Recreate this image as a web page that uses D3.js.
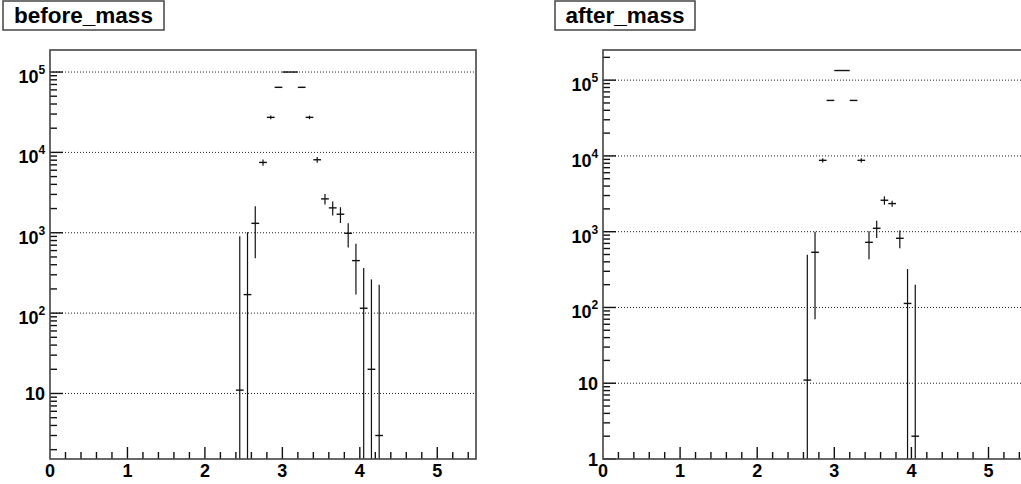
<!DOCTYPE html>
<html>
<head>
<meta charset="utf-8">
<script src="https://cdn.jsdelivr.net/npm/d3@7"></script>
<style>
  html, body { margin: 0; padding: 0; background: #fff; }
  svg { display: block; }
  text { font-family: "Liberation Sans", Arial, Helvetica, sans-serif; font-weight: bold; fill: #000; }
</style>
</head>
<body>
<svg id="chart" width="1021" height="484"></svg>
<script>
// Invariant-mass histograms: bin centres, contents and errors (bin width 0.1)
const binWidth = 0.1;

const beforeMass   = [2.45, 2.55, 2.65, 2.75, 2.85, 2.95, 3.05, 3.15, 3.25, 3.35, 3.45, 3.55, 3.65, 3.75, 3.85, 3.95, 4.05, 4.15, 4.25];
const beforeCounts = [11, 170, 1310, 7500, 27300, 64500, 100000, 100000, 64500, 27300, 8100, 2640, 2040, 1700, 985, 450, 115, 20, 3];
const beforeErrors = [895, 845, 830, 680, 1500, 900, 1000, 1000, 900, 1400, 650, 400, 400, 380, 330, 280, 250, 243, 222];

const afterMass   = [2.65, 2.75, 2.85, 2.95, 3.05, 3.15, 3.25, 3.35, 3.45, 3.55, 3.65, 3.75, 3.85, 3.95, 4.05];
const afterCounts = [11, 535, 8750, 54000, 134000, 134000, 54000, 8750, 724, 1110, 2600, 2350, 818, 113, 2];
const afterErrors = [486, 465, 550, 600, 700, 700, 600, 550, 290, 285, 330, 220, 215, 209, 198];

const xTickValues = [0, 1, 2, 3, 4, 5];

const panels = [
  { title: "before_mass", mass: beforeMass, counts: beforeCounts, errors: beforeErrors,
    left: 50, right: 476, top: 50, bottom: 459, yMin: 1.53, yMax: 1.88e5,
    titleBox: [3, 1, 161, 29] },
  { title: "after_mass", mass: afterMass, counts: afterCounts, errors: afterErrors,
    left: 603, right: 603 + 5.5 * 77.1, top: 50, bottom: 459, yMin: 1, yMax: 2.5e5,
    titleBox: [555, 1, 140, 29] }
];

const svg = d3.select("#chart");

panels.forEach((p, i) => {
  const g = svg.append("g");
  const clipId = "clip" + i;
  svg.append("clipPath").attr("id", clipId)
    .append("rect").attr("x", p.left).attr("y", p.top)
    .attr("width", p.right - p.left).attr("height", p.bottom - p.top);

  const x = d3.scaleLinear().domain([0, 5.5]).range([p.left, p.right]);
  const y = d3.scaleLog().domain([p.yMin, p.yMax]).range([p.bottom, p.top]);

  // log ticks: every 1..9 x 10^d inside the domain
  const logTicks = [];
  for (let d = Math.floor(Math.log10(p.yMin)); d <= Math.ceil(Math.log10(p.yMax)); d++) {
    for (let m = 1; m <= 9; m++) {
      const v = m * Math.pow(10, d);
      if (v >= p.yMin * 0.9999 && v <= p.yMax) logTicks.push({ v, major: m === 1, d });
    }
  }

  // dotted horizontal grid at each decade
  g.append("g").selectAll("line")
    .data(logTicks.filter(t => t.major && t.v > p.yMin * 1.001))
    .join("line")
    .attr("x1", p.left).attr("x2", p.right)
    .attr("y1", t => y(t.v)).attr("y2", t => y(t.v))
    .attr("stroke", "#222").attr("stroke-width", 1)
    .attr("stroke-dasharray", "1,2");

  // data points: horizontal bar spans the bin, vertical bar shows the error
  const pts = g.append("g").attr("clip-path", `url(#${clipId})`);
  p.mass.forEach((m, k) => {
    const c = p.counts[k], e = p.errors[k];
    const lo = c - e > 0 ? y(c - e) : p.bottom + 5;
    pts.append("line")
      .attr("x1", x(m)).attr("x2", x(m))
      .attr("y1", lo).attr("y2", y(c + e))
      .attr("stroke", "#111").attr("stroke-width", 1.2);
    pts.append("line")
      .attr("x1", x(m - binWidth / 2)).attr("x2", x(m + binWidth / 2))
      .attr("y1", y(c)).attr("y2", y(c))
      .attr("stroke", "#111").attr("stroke-width", 1.4);
  });

  // y ticks (inside the frame)
  g.append("g").selectAll("line")
    .data(logTicks)
    .join("line")
    .attr("x1", p.left).attr("x2", t => p.left + (t.major ? 13 : 7))
    .attr("y1", t => y(t.v)).attr("y2", t => y(t.v))
    .attr("stroke", "#111").attr("stroke-width", 1.4);

  // y labels
  const labels = g.append("g");
  logTicks.filter(t => t.major).forEach(t => {
    const yy = y(t.v);
    if (t.d <= 1) {
      labels.append("text")
        .attr("x", p.left - 5).attr("y", yy + 6.5)
        .attr("text-anchor", "end").attr("font-size", 18)
        .text(t.d === 0 ? "1" : "10");
    } else {
      labels.append("text")
        .attr("x", p.left - 11.5).attr("y", yy + 11)
        .attr("text-anchor", "end").attr("font-size", 18)
        .text("10");
      labels.append("text")
        .attr("x", p.left - 11.5).attr("y", yy + 2)
        .attr("text-anchor", "start").attr("font-size", 12)
        .text(String(t.d));
    }
  });

  // x ticks every 0.2, integers long
  const xTicks = d3.range(0, 56, 2).map(v => v / 10).filter(v => v > 0 && v < 5.5);
  g.append("g").selectAll("line")
    .data(xTicks)
    .join("line")
    .attr("x1", v => x(v)).attr("x2", v => x(v))
    .attr("y1", p.bottom)
    .attr("y2", v => p.bottom - (Math.abs(v - Math.round(v)) < 1e-6 ? 12 : 7))
    .attr("stroke", "#111").attr("stroke-width", 1.4);

  g.append("g").selectAll("text")
    .data(xTickValues)
    .join("text")
    .attr("x", v => x(v)).attr("y", 477)
    .attr("text-anchor", "middle").attr("font-size", 18)
    .text(v => String(v));

  // frame
  g.append("rect")
    .attr("x", p.left).attr("y", p.top)
    .attr("width", p.right - p.left).attr("height", p.bottom - p.top)
    .attr("fill", "none").attr("stroke", "#444").attr("stroke-width", 1.6);

  // title box
  const [bx, by, bw, bh] = p.titleBox;
  g.append("rect")
    .attr("x", bx).attr("y", by).attr("width", bw).attr("height", bh)
    .attr("fill", "#fff").attr("stroke", "#444").attr("stroke-width", 1.5);
  g.append("text")
    .attr("x", bx + bw / 2).attr("y", by + 21.5)
    .attr("text-anchor", "middle").attr("font-size", 22.5)
    .text(p.title);
});
</script>
</body>
</html>
